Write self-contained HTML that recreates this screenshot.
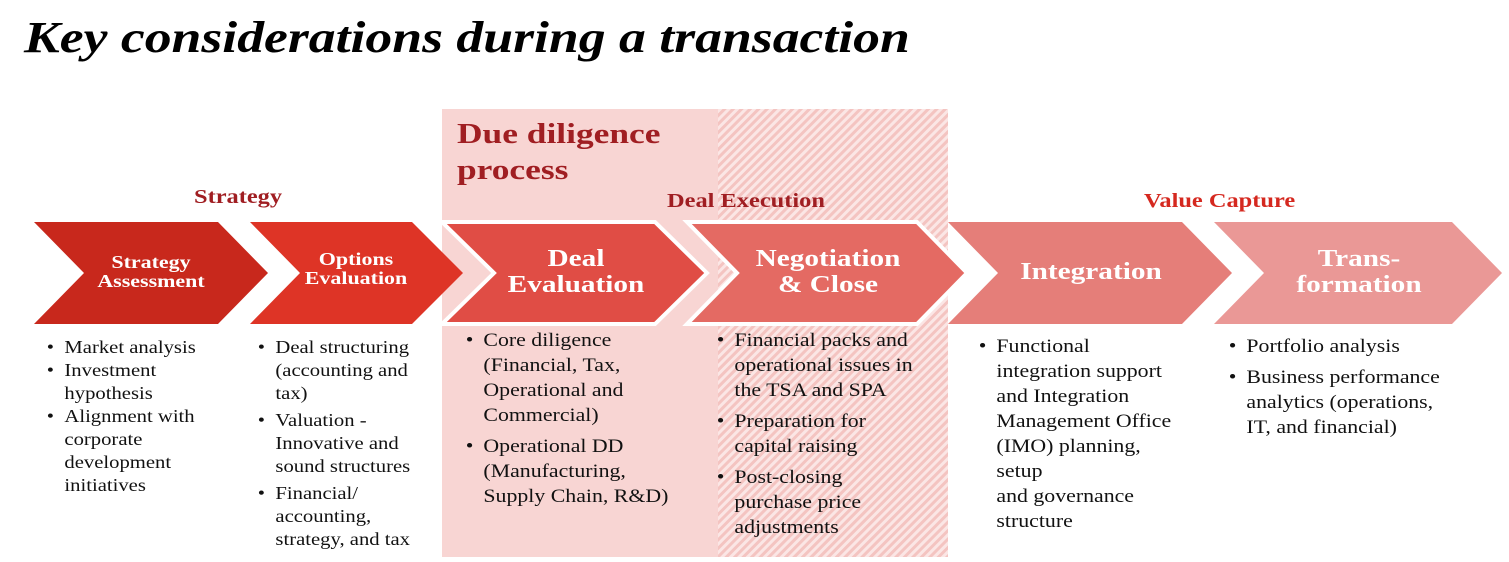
<!DOCTYPE html>
<html><head><meta charset="utf-8"><style>
html,body{margin:0;padding:0;background:#fff;}
body{width:1509px;height:562px;position:relative;overflow:hidden;font-family:"Liberation Serif",serif;}
.t{position:absolute;white-space:nowrap;transform:scaleX(1.22);transform-origin:0 0;}
.c{position:absolute;white-space:nowrap;text-align:center;color:#fff;font-weight:bold;transform:scaleX(1.22);transform-origin:50% 0;}
ul{position:absolute;margin:0;padding:0 0 0 19px;font-size:17.5px;line-height:23px;color:#111;list-style:none;white-space:nowrap;transform:scaleX(1.18);transform-origin:0 0;}
li{position:relative;}
li:before{content:"•";position:absolute;left:-15px;}
li+li.g{margin-top:4px;}
ul.b{font-size:18.5px;line-height:25px;}
ul.b li+li.g{margin-top:6px;}
</style></head><body>
<svg width="1509" height="562" style="position:absolute;left:0;top:0">
<defs><pattern id="h" width="6" height="6" patternUnits="userSpaceOnUse" patternTransform="rotate(45)"><rect width="6" height="6" fill="#fbe6e5"/><rect width="3" height="6" fill="#f4c4c1"/></pattern></defs>
<rect x="442" y="109" width="276" height="448" fill="#f8d5d3"/>
<rect x="718" y="109" width="230" height="448" fill="url(#h)"/>
<polygon points="34,222 218,222 268,273 218,324 34,324 84,273" fill="#c8281c"/>
<polygon points="250,222 412,222 463,273 412,324 250,324 300,273" fill="#de3426"/>
<polygon points="442,222 655,222 707,273 655,324 442,324 494,273" fill="#e04d45" stroke="#fff" stroke-width="4"/>
<polygon points="687,222 917,222 967,273 917,324 687,324 737,273" fill="#e46a63" stroke="#fff" stroke-width="4"/>
<polygon points="948,222 1182,222 1232,273 1182,324 948,324 998,273" fill="#e57e79"/>
<polygon points="1214,222 1452,222 1502,273 1452,324 1214,324 1264,273" fill="#ea9896"/>
</svg>
<div class="t" style="left:24px;top:12px;font-size:44px;font-weight:bold;font-style:italic;">Key considerations during a transaction</div>
<div class="t" style="left:457px;top:116px;font-size:29px;font-weight:bold;color:#a01e22;line-height:36px;">Due diligence<br>process</div>
<div class="t" style="left:194px;top:186px;font-size:20px;font-weight:bold;color:#a01e22;">Strategy</div>
<div class="t" style="left:667px;top:190px;font-size:20px;font-weight:bold;color:#a01e22;">Deal Execution</div>
<div class="t" style="left:1144px;top:190px;font-size:20px;font-weight:bold;color:#d5281f;">Value Capture</div>
<div class="c" style="left:84px;width:134px;top:253px;font-size:18px;line-height:19px;">Strategy<br>Assessment</div>
<div class="c" style="left:300px;width:112px;top:250px;font-size:18px;line-height:19px;">Options<br>Evaluation</div>
<div class="c" style="left:494px;width:164px;top:246px;font-size:24px;line-height:26px;">Deal<br>Evaluation</div>
<div class="c" style="left:737px;width:182px;top:246px;font-size:24px;line-height:26px;">Negotiation<br>&amp; Close</div>
<div class="c" style="left:998px;width:186px;top:259px;font-size:24px;line-height:26px;">Integration</div>
<div class="c" style="left:1264px;width:190px;top:246px;font-size:24px;line-height:26px;">Trans-<br>formation</div>
<ul style="left:42px;top:336px;"><li>Market analysis</li><li>Investment<br>hypothesis</li><li>Alignment with<br>corporate<br>development<br>initiatives</li></ul>
<ul style="left:253px;top:336px;"><li>Deal structuring<br>(accounting and<br>tax)</li><li class="g">Valuation -<br>Innovative and<br>sound structures</li><li class="g">Financial/<br>accounting,<br>strategy, and tax</li></ul>
<ul class="b" style="left:461px;top:329px;"><li>Core diligence<br>(Financial, Tax,<br>Operational and<br>Commercial)</li><li class="g">Operational DD<br>(Manufacturing,<br>Supply Chain, R&amp;D)</li></ul>
<ul class="b" style="left:712px;top:329px;"><li>Financial packs and<br>operational issues in<br>the TSA and SPA</li><li class="g">Preparation for<br>capital raising</li><li class="g">Post-closing<br>purchase price<br>adjustments</li></ul>
<ul class="b" style="left:974px;top:335px;"><li>Functional<br>integration support<br>and Integration<br>Management Office<br>(IMO) planning,<br>setup<br>and governance<br>structure</li></ul>
<ul class="b" style="left:1224px;top:335px;"><li>Portfolio analysis</li><li class="g">Business performance<br>analytics (operations,<br>IT, and financial)</li></ul>
</body></html>
